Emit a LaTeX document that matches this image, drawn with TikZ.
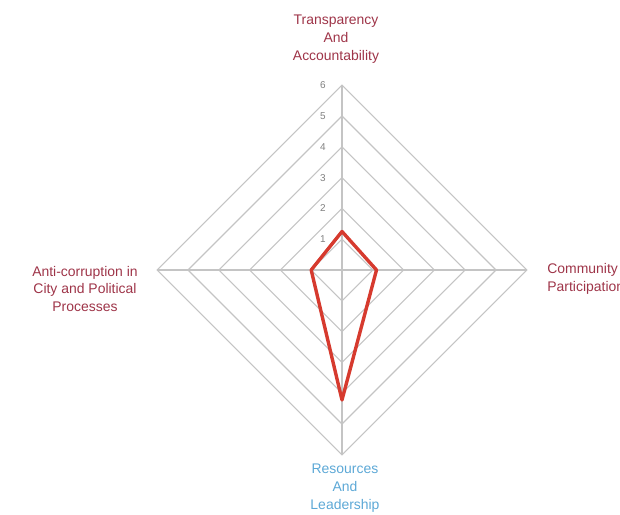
\documentclass[tikz,border=0pt]{standalone}
\usepackage{fontspec}
\setmainfont{Liberation Sans}
\usepackage{tikz}
\usetikzlibrary{positioning,calc}

\definecolor{gridgray}{RGB}{196,196,196}
\definecolor{labelred}{RGB}{158,52,72}
\definecolor{labelblue}{RGB}{92,168,214}
\definecolor{scorered}{RGB}{214,58,46}

\begin{document}
\begin{tikzpicture}[
  x=0.5bp, y=0.5bp,
  ring/.style={draw=gridgray, line width=0.55bp},
  axis/.style={draw=gridgray, line width=0.55bp},
  tick/.style={font=\fontsize{5}{6}\selectfont, text=gray, anchor=east, inner sep=1pt},
  axlbl/.style={font=\fontsize{7}{9}\selectfont, align=center, text=labelred, inner sep=1pt},
  score/.style={draw=scorered, line width=1.7bp, line join=round}
]
\useasboundingbox (-342,-245) rectangle (278,270);

% grid rings (one per score level)
\foreach \r in {1,...,6} {
  \draw[ring] (0,\r*30.8) -- (\r*30.8,0) -- (0,-\r*30.8) -- (-\r*30.8,0) -- cycle;
  \node[tick] (t\r) at (-14,\r*30.8) {\r};
}

% axis ends
\coordinate (ctr) at (0,0);
\coordinate (top) at (0,184.8);
\coordinate (rgt) at (184.8,0);
\coordinate (bot) at (0,-184.8);
\coordinate (lft) at (-184.8,0);

\draw[axis] (top) -- (bot);
\draw[axis] (lft) -- (rgt);

% scores
\draw[score] (0,1.25*30.8) -- (1.12*30.8,0) -- (0,-4.22*30.8) -- (-1.0*30.8,0) -- cycle;

% axis labels
\node[axlbl] (transp) at (-6,231) {Transparency\\And\\Accountability};
\node[axlbl] (anticor) at (-257,-19) {Anti-corruption in\\City and Political\\Processes};
\node[axlbl, align=left, anchor=west] (commun) at (203,-9) {Community\\Participation};
\node[axlbl, text=labelblue] (resour) at (3,-218) {Resources\\And\\Leadership};

\end{tikzpicture}
\end{document}
